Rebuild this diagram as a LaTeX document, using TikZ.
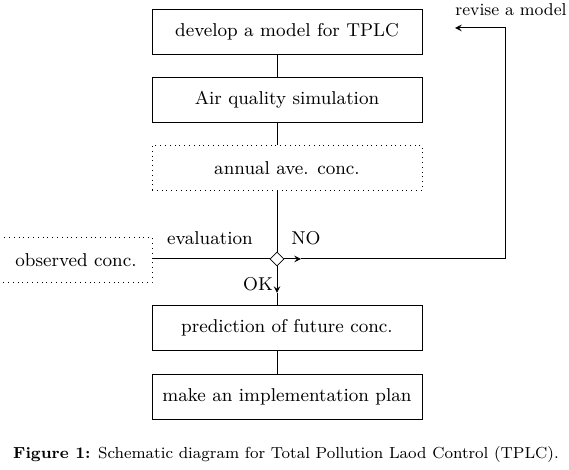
\documentclass[tikz,border=0pt]{standalone}
\usepackage{tikz}
\usetikzlibrary{shapes.geometric}

\tikzset{
	stepbox/.style={rectangle, draw=black, minimum width=135pt, minimum height=22.5pt, inner sep=2pt, font=\fontsize{9.3}{11}\selectfont},
	dotbox/.style={stepbox, dotted},
	decision/.style={diamond, draw=black, inner sep=0pt, minimum size=7pt},
	flow/.style={line width=0.5pt},
	flowarrow/.style={flow, ->, >=stealth}
}

\begin{document}
\begin{tikzpicture}[x=0.5pt, y=-0.5pt]
		\clip (0,0) rectangle (569,470);
		\useasboundingbox (0,0) rectangle (569,470);
		% main chain of boxes
		\node[stepbox](modelBox) at (287,32){develop a model for TPLC};
		\node[stepbox](simBox) at (287,100){Air quality simulation};
		\node[dotbox](annualBox) at (287,168){annual ave. conc.};
		\node[decision](evalDia) at (277,259){};
		\node[dotbox, minimum width=84pt](obsBox) at (68,260){\hspace{8pt}observed conc.};
		\node[stepbox](predBox) at (287,328){prediction of future conc.};
		\node[stepbox](planBox) at (287,397){make an implementation plan};
		% labels
		\node[font=\fontsize{9.3}{11}\selectfont](evalLabel) at (210,238){evaluation};
		\node[font=\fontsize{9.3}{11}\selectfont](noLabel) at (306,238){NO};
		\node[font=\fontsize{9.3}{11}\selectfont](okLabel) at (258,284){OK};
		\node[font=\fontsize{8.6}{10}\selectfont, anchor=east, inner xsep=1pt](reviseLabel) at (569,10){revise a model};
		\node[font=\footnotesize](caption) at (286,455){\textbf{Figure 1:} Schematic diagram for Total Pollution Laod Control (TPLC).};
		% helper points
		\coordinate(noTip) at (301,259);
		\coordinate(loopLow) at (505,259);
		\coordinate(loopTop) at (505,28);
		\coordinate(reviseTip) at (455,28);
		\coordinate(okTip) at (277,293);
		% connectors
		\draw[flow] (modelBox.south -| evalDia) -- (simBox.north -| evalDia);
		\draw[flow] (simBox.south -| evalDia) -- (annualBox.north -| evalDia);
		\draw[flow] (annualBox.south -| evalDia) -- (evalDia.north);
		\draw[flow] (obsBox.east |- evalDia) -- (evalDia.west);
		\draw[flowarrow] (evalDia.east) -- (noTip);
		\draw[flowarrow] (noTip) -- (loopLow) -- (loopTop) -- (reviseTip);
		\draw[flowarrow] (evalDia.south) -- (okTip);
		\draw[flow] (okTip) -- (predBox.north -| evalDia);
		\draw[flow] (predBox.south -| evalDia) -- (planBox.north -| evalDia);
	\end{tikzpicture}
\end{document}
